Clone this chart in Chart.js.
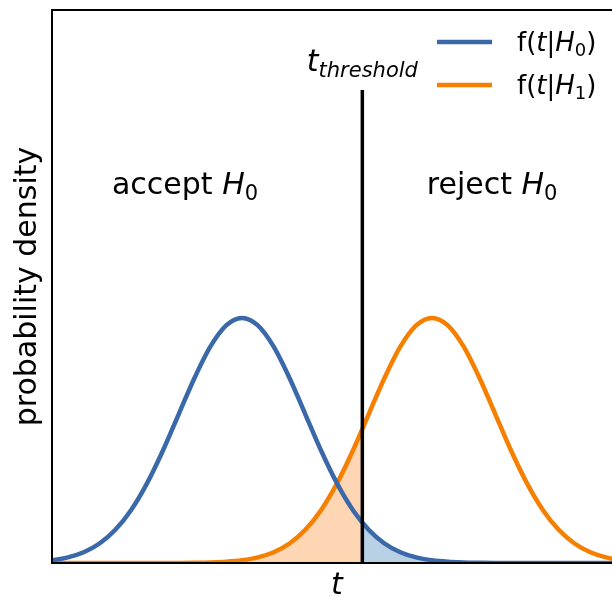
<!DOCTYPE html>
<html>
<head>
<meta charset="utf-8">
<script src="https://cdn.jsdelivr.net/npm/chart.js@4.4.1/dist/chart.umd.min.js"></script>
<style>
  html, body { margin: 0; padding: 0; background: #fff; overflow: hidden; width: 612px; height: 596px; }
  canvas { position: absolute; left: 0; top: 0; }
</style>
</head>
<body>
<canvas id="myChart" width="640" height="596"></canvas>
<script>
// t values (x axis) and the two densities
const tValues = [-3, -2.75, -2.5, -2.25, -2, -1.75, -1.5, -1.25, -1, -0.75, -0.5, -0.25,
                 0, 0.25, 0.5, 0.75, 1, 1.25, 1.5, 1.75, 2, 2.25, 2.5, 2.75,
                 3, 3.25, 3.5, 3.75, 4, 4.25, 4.5, 4.75, 5, 5.25, 5.5, 5.75, 6];
const densityH0 = [0.0044, 0.0091, 0.0175, 0.0317, 0.0540, 0.0863, 0.1295, 0.1826, 0.2420, 0.3011, 0.3521, 0.3867,
                   0.3989, 0.3867, 0.3521, 0.3011, 0.2420, 0.1826, 0.1295, 0.0863, 0.0540, 0.0317, 0.0175, 0.0091,
                   0.0044, 0.0020, 0.0009, 0.0004, 0.0001, 0, 0, 0, 0, 0, 0, 0, 0];
const densityH1 = [0, 0, 0, 0, 0, 0, 0, 0, 0.0001, 0.0004, 0.0009, 0.0020,
                   0.0044, 0.0091, 0.0175, 0.0317, 0.0540, 0.0863, 0.1295, 0.1826, 0.2420, 0.3011, 0.3521, 0.3867,
                   0.3989, 0.3867, 0.3521, 0.3011, 0.2420, 0.1826, 0.1295, 0.0863, 0.0540, 0.0317, 0.0175, 0.0091, 0.0044];

// threshold position and the densities right at it
const threshold = 1.9;
const thresholdH0 = 0.0656;
const thresholdH1 = 0.2179;
const thresholdTop = 0.77;

const blue = '#3a68a8';
const orange = '#f77f00';

function toPoints(xs, ys) {
    return xs.map((x, i) => ({ x: x, y: ys[i] }));
}

// area under H1 left of threshold, area under H0 right of threshold
const fillLeft = toPoints(tValues, densityH1).filter(p => p.x < threshold);
fillLeft.push({ x: threshold, y: thresholdH1 });
const fillRight = [{ x: threshold, y: thresholdH0 }].concat(toPoints(tValues, densityH0).filter(p => p.x > threshold));

const FONT = '"DejaVu Sans", sans-serif';

function fontFor(p, size) {
    const s = p.sub ? Math.round(size * 0.7) : size;
    return (p.it ? 'italic ' : '') + s + 'px ' + FONT;
}

// draws mixed text: normal, italic and subscript parts
function drawRich(ctx, parts, x, y, size, align) {
    let w = 0;
    parts.forEach(p => { ctx.font = fontFor(p, size); w += ctx.measureText(p.t).width; });
    let cx = align === 'center' ? x - w / 2 : x;
    ctx.textAlign = 'left';
    parts.forEach(p => {
        ctx.font = fontFor(p, size);
        const dy = p.sub ? size * 0.2 : 0;
        ctx.fillText(p.t, cx, y + dy);
        cx += ctx.measureText(p.t).width;
    });
}

const decorations = {
    id: 'decorations',
    afterDatasetsDraw(chart) {
        const ctx = chart.ctx;
        const a = chart.chartArea;
        const xs = chart.scales.x, ys = chart.scales.y;
        ctx.save();

        // threshold line
        const xt = xs.getPixelForValue(threshold);
        ctx.strokeStyle = '#000';
        ctx.lineWidth = 3.5;
        ctx.beginPath();
        ctx.moveTo(xt, ys.getPixelForValue(0));
        ctx.lineTo(xt, ys.getPixelForValue(thresholdTop));
        ctx.stroke();

        // spines (left, top, bottom)
        ctx.lineWidth = 2;
        ctx.beginPath();
        ctx.moveTo(a.right + 2, a.top);
        ctx.lineTo(a.left, a.top);
        ctx.lineTo(a.left, a.bottom);
        ctx.lineTo(a.right + 2, a.bottom);
        ctx.stroke();

        ctx.fillStyle = '#000';
        ctx.textBaseline = 'alphabetic';

        // region labels
        drawRich(ctx, [{ t: 'accept ' }, { t: 'H', it: true }, { t: '0', sub: true }],
            xs.getPixelForValue(-0.9), ys.getPixelForValue(0.6), 30, 'center');
        drawRich(ctx, [{ t: 'reject ' }, { t: 'H', it: true }, { t: '0', sub: true }],
            xs.getPixelForValue(3.95), ys.getPixelForValue(0.6), 30, 'center');

        // threshold label
        drawRich(ctx, [{ t: 't', it: true }, { t: 'threshold', it: true, sub: true }],
            xt, ys.getPixelForValue(0.8), 30, 'center');

        // legend
        const legendItems = [
            { color: blue, parts: [{ t: 'f(' }, { t: 't', it: true }, { t: '|' }, { t: 'H', it: true }, { t: '0', sub: true }, { t: ')' }] },
            { color: orange, parts: [{ t: 'f(' }, { t: 't', it: true }, { t: '|' }, { t: 'H', it: true }, { t: '1', sub: true }, { t: ')' }] }
        ];
        legendItems.forEach((item, i) => {
            const ly = 42 + i * 43;
            ctx.strokeStyle = item.color;
            ctx.lineWidth = 4.5;
            ctx.beginPath();
            ctx.moveTo(437, ly);
            ctx.lineTo(492, ly);
            ctx.stroke();
            drawRich(ctx, item.parts, 517, ly + 9, 26, 'left');
        });

        // axis labels
        drawRich(ctx, [{ t: 't', it: true }], (a.left + a.right) / 2, 594, 30, 'center');
        ctx.translate(28, (a.top + a.bottom) / 2);
        ctx.rotate(-Math.PI / 2);
        ctx.font = '30px ' + FONT;
        ctx.textAlign = 'center';
        ctx.textBaseline = 'middle';
        ctx.fillText('probability density', 0, 0);

        ctx.restore();
    }
};

const ctx = document.getElementById('myChart').getContext('2d');
const myChart = new Chart(ctx, {
    type: 'line',
    data: {
        datasets: [
            {
                data: toPoints(tValues, densityH0),
                borderColor: blue,
                borderWidth: 4.5,
                fill: false,
                order: 1
            },
            {
                data: toPoints(tValues, densityH1),
                borderColor: orange,
                borderWidth: 4.5,
                fill: false,
                order: 1
            },
            {
                data: fillLeft,
                borderWidth: 0,
                backgroundColor: '#ffd6b4',
                fill: 'origin',
                order: 2
            },
            {
                data: fillRight,
                borderWidth: 0,
                backgroundColor: '#b9d1e4',
                fill: 'origin',
                order: 2
            }
        ]
    },
    options: {
        responsive: false,
        animation: false,
        devicePixelRatio: 1,
        elements: { point: { radius: 0 }, line: { cubicInterpolationMode: 'monotone' } },
        layout: { padding: { left: 52, top: 10, right: 18, bottom: 33 } },
        plugins: {
            legend: { display: false },
            tooltip: { enabled: false }
        },
        scales: {
            x: { type: 'linear', min: -3, max: 6, display: false },
            y: { min: 0, max: 0.9, display: false }
        }
    },
    plugins: [decorations]
});
</script>
</body>
</html>
